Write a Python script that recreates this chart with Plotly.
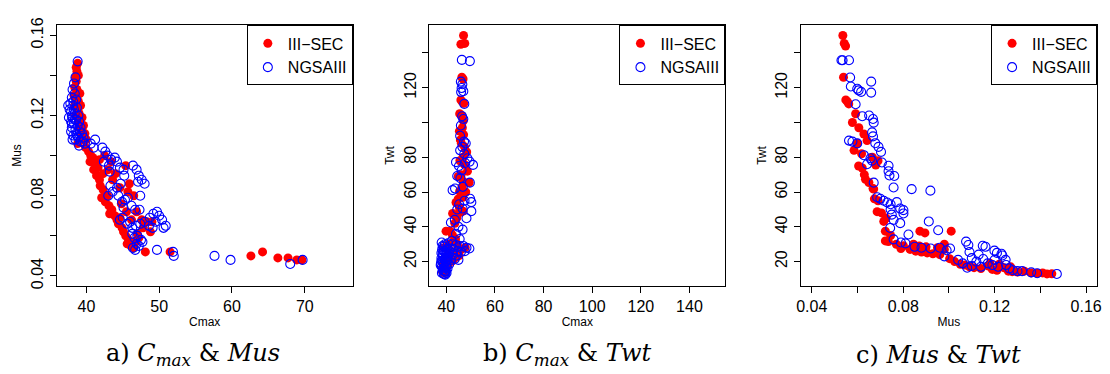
import plotly.graph_objects as go

# ---------------- data ----------------
# Panel a: Cmax vs Mus
a_sec_cmax = [38.8, 38.6, 38.7, 38.5, 38.6, 38.4, 38.7, 38.3, 38.6, 38.9, 38.4, 38.8, 39.0, 38.5, 38.9, 39.2, 39.0, 39.4, 39.3, 39.6, 38.8,
              39.9, 40.3, 40.6, 40.9, 40.5, 41.2, 41.0, 41.6, 41.4, 41.8, 42.3, 41.9, 42.3, 42.1, 42.6, 42.9, 43.1, 43.5, 43.2, 43.9,
              44.2, 44.6, 44.4, 44.9, 45.1, 45.4, 45.8, 45.6, 46.1, 46.5, 46.8, 47.2, 48.1, 47.0,
              43.4, 43.0, 44.0, 45.4, 45.9, 45.7, 44.6, 43.6, 46.5, 46.9, 47.6, 48.3, 48.8, 49.0, 47.8, 46.2, 42.5, 41.8, 44.8, 45.5,
              51.5, 62.6, 64.2, 66.3, 67.7, 68.9, 69.6,
              38.9, 39.1, 39.2, 39.4, 39.6, 40.0, 39.8]
a_sec_mus = [0.146, 0.144, 0.142, 0.139, 0.137, 0.134, 0.133, 0.130, 0.128, 0.127, 0.125, 0.123, 0.121, 0.120, 0.118, 0.116, 0.114, 0.112, 0.110, 0.108, 0.106,
             0.104, 0.102, 0.100, 0.099, 0.097, 0.096, 0.093, 0.094, 0.090, 0.088, 0.091, 0.085, 0.083, 0.079, 0.077, 0.080, 0.075, 0.073, 0.071, 0.070,
             0.068, 0.069, 0.066, 0.064, 0.062, 0.060, 0.058, 0.056, 0.055, 0.054, 0.057, 0.059, 0.052, 0.061,
             0.097, 0.093, 0.091, 0.095, 0.086, 0.082, 0.084, 0.088, 0.080, 0.072, 0.068, 0.067, 0.062, 0.067, 0.064, 0.068, 0.100, 0.098, 0.076, 0.072,
             0.052, 0.050, 0.052, 0.049, 0.049, 0.048, 0.048,
             0.140, 0.131, 0.125, 0.119, 0.115, 0.108, 0.111]
a_ngs_cmax = [38.8, 38.5, 38.3, 38.1, 38.4, 38.0, 38.6, 37.8, 37.5, 38.2, 38.7, 37.9, 38.4, 38.9, 38.1, 38.6, 37.9, 39.0, 38.3, 38.8, 38.0, 38.5, 39.2,
              37.9, 38.6, 39.4, 38.2, 38.9, 39.6, 38.5, 39.2, 39.8,
              40.6, 41.2, 41.0, 42.2, 42.6, 42.9, 43.4, 42.4, 43.1, 43.9, 44.2, 44.6, 43.2, 45.1, 46.4, 46.9, 47.2, 47.6, 47.1, 48.0, 47.4, 45.2,
              43.3, 43.0, 43.6, 44.2, 44.7, 44.4, 44.9, 45.3, 45.7, 45.1, 46.2, 46.7, 47.3, 44.6, 45.0, 45.6, 46.0, 46.3, 46.8, 47.4, 48.0,
              48.6, 49.2, 49.7, 50.0, 50.4, 49.5, 48.7, 50.9, 50.6, 49.1,
              46.3, 46.6, 47.0, 47.5, 46.9, 46.4, 46.7, 47.2, 47.7, 49.7, 51.9, 52.0, 57.6, 59.8, 68.0, 69.7,
              37.7, 38.0, 38.3, 38.2, 37.6, 38.0, 38.4, 39.1, 39.5, 38.7, 38.1, 39.0]
a_ngs_mus = [0.147, 0.139, 0.136, 0.133, 0.131, 0.129, 0.128, 0.126, 0.125, 0.125, 0.124, 0.122, 0.121, 0.120, 0.119, 0.118, 0.117, 0.117, 0.116, 0.115, 0.114, 0.113, 0.114,
             0.112, 0.111, 0.111, 0.110, 0.109, 0.109, 0.108, 0.107, 0.106,
             0.106, 0.108, 0.104, 0.104, 0.102, 0.100, 0.098, 0.097, 0.095, 0.099, 0.097, 0.094, 0.092, 0.093, 0.095, 0.093, 0.090, 0.088, 0.087, 0.086, 0.080, 0.090,
             0.085, 0.080, 0.082, 0.084, 0.086, 0.080, 0.077, 0.078, 0.079, 0.074, 0.075, 0.073, 0.073, 0.068, 0.069, 0.066, 0.067, 0.064, 0.065, 0.066, 0.067,
             0.065, 0.071, 0.072, 0.070, 0.068, 0.067, 0.069, 0.065, 0.064, 0.064,
             0.061, 0.059, 0.060, 0.058, 0.056, 0.054, 0.053, 0.055, 0.057, 0.053, 0.052, 0.050, 0.050, 0.048, 0.046, 0.048,
             0.123, 0.120, 0.123, 0.127, 0.119, 0.116, 0.118, 0.112, 0.107, 0.110, 0.108, 0.105]

# Panel b: Cmax vs Twt
b_sec_cmax = [47.1, 46.0, 47.6, 46.4, 46.9, 46.0, 47.2, 46.5, 45.5, 46.3, 47.0, 45.4, 46.6, 47.1, 45.8, 46.2, 47.5, 48.4, 46.9, 45.6,
              47.4, 48.7, 46.1, 44.9, 47.0, 49.4, 46.5, 48.0, 45.5, 46.8, 44.9, 44.0, 45.4, 46.9, 42.6, 45.7, 44.3, 43.5, 41.6, 39.9,
              42.5, 43.8, 44.5, 41.0, 39.0, 40.5, 42.0, 43.3, 45.3, 44.0, 41.5, 40.2, 39.0, 38.6, 39.5, 40.8, 42.6, 46.2, 47.8, 38.4, 39.2]
b_sec_twt = [150, 145, 145.5, 126, 125, 113, 111, 112, 105, 104, 101, 95, 97, 93, 90, 88, 86, 83, 80, 78,
             76, 72, 70, 69, 66, 65.5, 63, 60, 60.5, 57, 56, 54, 51, 49, 47.7, 48.3, 45, 42, 37.5, 37.5,
             35.4, 33, 30, 30, 28, 27, 26, 25.5, 23.5, 22.5, 22, 20, 19, 17, 16, 18, 20.5, 27, 28, 14.5, 13.5]
b_ngs_cmax = [46.4, 49.7, 46.0, 46.6, 46.3, 47.0, 46.1, 47.4, 46.5, 47.0, 46.0, 45.7, 47.3, 48.0, 46.6, 45.7, 47.4, 44.0, 48.7, 51.0,
              47.8, 49.6, 45.2, 46.3, 44.5, 45.8, 42.6, 43.6, 49.7, 46.8, 49.8, 50.3, 47.5, 45.3, 44.5, 50.3, 46.7, 48.3, 41.9, 43.5,
              46.7, 45.0, 44.0, 42.3, 45.5, 38.1, 38.5, 39.4, 40.7, 42.6, 44.0, 45.5, 47.0, 48.3, 49.5, 47.6, 46.0, 44.6, 43.0, 41.6,
              40.3, 39.0, 38.0, 38.6, 39.8, 41.2, 42.8, 44.2, 38.0, 39.3, 40.6, 42.0, 37.8, 38.8, 40.0, 41.2, 38.2, 39.3, 38.6, 39.5,
              38.2, 38.9, 39.6, 40.5, 38.0, 37.7, 43.5, 45.0,
              38.3, 39.0, 38.5, 39.6, 40.2, 40.7, 39.9, 38.4, 39.6, 40.3, 39.0, 39.8, 38.7, 39.9, 40.1, 39.2]
b_ngs_twt = [136, 135.3, 123.5, 122, 119.8, 118, 117.5, 110.7, 103.6, 102, 98.3, 92.4, 89, 88, 86, 84, 82, 77.2, 79.4, 75.6,
             76.7, 77.5, 75, 72.5, 69.2, 68, 61.1, 62, 65.4, 63, 56.1, 54.2, 55, 53, 50, 49, 50.5, 44.9, 42.5, 44,
             38.4, 40, 36, 32, 33, 31, 29, 30, 30.5, 30, 29.5, 29, 29, 28, 27.5, 26, 25.5, 26, 27, 27.5,
             27, 26, 25, 23.5, 24, 24.5, 24, 23.5, 22, 21.5, 21.5, 21, 19, 19.5, 18.5, 18.5, 17, 16.5, 15, 14.5,
             13.5, 13, 12.5, 16, 20.5, 18, 21.5, 21,
             27, 28.5, 25, 25.5, 25, 23, 22, 20.5, 20, 20.5, 18, 17, 16, 14.5, 13.5, 12.8]

# Panel c: Mus vs Twt
c_sec_mus = [0.0536, 0.0542, 0.0548, 0.0539, 0.0549, 0.0556, 0.0562, 0.0592, 0.0578, 0.0606, 0.0628, 0.0642, 0.0600, 0.0585, 0.0618,
             0.0605, 0.0621, 0.0635, 0.0630, 0.0650, 0.0668, 0.0671, 0.0674, 0.0690, 0.0686, 0.0705, 0.0715, 0.0725, 0.0722, 0.0722,
             0.0735, 0.0745, 0.0690, 0.0680, 0.0665, 0.0873, 0.0895, 0.1010, 0.0770, 0.0801, 0.0790, 0.0830, 0.0855, 0.0880, 0.0905,
             0.0930, 0.0955, 0.0980, 0.0960, 0.1003, 0.1025, 0.1050, 0.1070, 0.1090, 0.1110, 0.1140, 0.1170, 0.1190, 0.1210, 0.1240,
             0.1260, 0.1277, 0.1300, 0.1330, 0.1360, 0.1386, 0.1410, 0.1429, 0.1450, 0.0980, 0.0950, 0.0900, 0.0870, 0.0845, 0.1180,
             0.1220, 0.1270]
c_sec_twt = [150, 145.5, 144, 126, 113, 112, 110.7, 105, 100, 97, 93.4, 89.6, 88, 84, 82,
             75, 73.8, 67.3, 70, 65.5, 62, 61.7, 56.1, 55, 48.7, 48, 43.1, 45, 37.5, 31.9,
             31.5, 35, 78, 75.5, 80, 37.5, 36.5, 37.5, 30, 29.1, 27.5, 27, 26, 25.5, 25,
             24.5, 26, 27, 24, 21.7, 20, 18.5, 18, 17, 16.5, 16, 17.5, 15.5, 15, 16.5,
             14.5, 14.2, 14, 14.5, 13.5, 13.3, 13.5, 12.9, 13, 30, 28, 28.5, 29, 30, 19,
             18.5, 17]
c_ngs_mus = [0.0530, 0.0535, 0.0563, 0.0568, 0.0660, 0.0660, 0.0571, 0.0599, 0.0605, 0.0616, 0.0592, 0.0621, 0.0651, 0.0668, 0.0671,
             0.0664, 0.0668, 0.0563, 0.0578, 0.0599, 0.0678, 0.0692, 0.0703, 0.0628, 0.0657, 0.0664, 0.0642, 0.0707, 0.0736, 0.0736,
             0.0740, 0.0761, 0.0758, 0.0837, 0.0919, 0.0671, 0.0686, 0.0700, 0.0715, 0.0730, 0.0772, 0.0745, 0.0787, 0.0801, 0.0801,
             0.0745, 0.0750, 0.0758, 0.0787, 0.0743, 0.0823, 0.0912, 0.0953, 0.0758, 0.0790, 0.0810, 0.0850, 0.0880, 0.0920, 0.0960,
             0.0990, 0.1005, 0.0980, 0.1040, 0.1060, 0.1075, 0.1085, 0.1090, 0.1100, 0.1120, 0.1148, 0.1160, 0.1130, 0.1150, 0.1170,
             0.1199, 0.1210, 0.1230, 0.1234, 0.1248, 0.1200, 0.1190, 0.1215, 0.1250, 0.1265, 0.1280, 0.1300, 0.1320, 0.1360, 0.1386,
             0.1472, 0.1100, 0.1140, 0.1080]
c_ngs_twt = [135.8, 135.8, 135.8, 125.9, 123.5, 117.2, 120.7, 119.4, 118.5, 117.6, 110.5, 103.6, 104, 102, 99.9,
             94.3, 92, 89.6, 89, 88, 88.1, 86, 83.1, 81.2, 79.4, 78, 76, 77, 75.1, 72,
             69.5, 69.2, 62.6, 61.7, 60.8, 65.4, 57, 56.1, 55, 54, 54.2, 53, 50.5, 49.6, 47.7,
             50, 47, 44, 42.1, 39.3, 35.6, 43.1, 38, 32.8, 31, 30.5, 28.5, 28, 27.5, 28,
             26.5, 27.5, 23, 21, 19, 31.5, 29.5, 25.5, 22, 20, 29.1, 28.5, 24, 21.5, 19,
             26.3, 25, 24.5, 23.5, 21, 21, 18, 17, 18, 16, 15, 14.5, 14.5, 13.8, 13.3,
             12.9, 17.5, 17, 16.5]

series_names = ["III\u2212SEC", "NGSAIII"]
captions = ["a) <i>C</i><sub><i>max</i></sub> & <i>Mus</i>",
            "b) <i>C</i><sub><i>max</i></sub> & <i>Twt</i>",
            "c) <i>Mus</i> & <i>Twt</i>"]

# ---------------- figure ----------------
W, H = 1110, 374
RED, BLUE = "#ff0000", "#0000ff"
SANS = "Liberation Sans, Arial, Helvetica, sans-serif"

fig = go.Figure()

panels = [
    (a_sec_cmax, a_sec_mus, a_ngs_cmax, a_ngs_mus, "x", "y", "legend"),
    (b_sec_cmax, b_sec_twt, b_ngs_cmax, b_ngs_twt, "x2", "y2", "legend2"),
    (c_sec_mus, c_sec_twt, c_ngs_mus, c_ngs_twt, "x3", "y3", "legend3"),
]
for sx, sy, nx, ny, xa, ya, lg in panels:
    fig.add_trace(go.Scatter(x=sx, y=sy, mode="markers", name=series_names[0], xaxis=xa, yaxis=ya, legend=lg,
                             marker=dict(symbol="circle", size=9, color=RED, line=dict(width=0))))
    fig.add_trace(go.Scatter(x=nx, y=ny, mode="markers", name=series_names[1], xaxis=xa, yaxis=ya, legend=lg,
                             marker=dict(symbol="circle-open", size=9, color=BLUE, line=dict(width=1.1, color=BLUE))))

frames = [(52, 351), (428, 727), (803, 1102)]
y_dom = [1 - 286 / H, 1 - 18 / H]

axis_common = dict(showline=True, linecolor="black", linewidth=1, mirror=True, ticks="outside", ticklen=6,
                   tickcolor="black", tickwidth=1, showgrid=False, zeroline=False,
                   tickfont=dict(family=SANS, size=16, color="black"))

a_xticks = [40, 50, 60, 70]
a_yticks = [0.04, 0.06, 0.08, 0.10, 0.12, 0.14, 0.16]
a_ytext = ["0.04", "", "0.08", "", "0.12", "", "0.16"]
b_xticks = [40, 60, 80, 100, 120, 140]
twt_ticks = [20, 40, 60, 80, 100, 120, 140]
twt_text = ["20", "40", "60", "80", "", "120", ""]
c_xticks = [0.04, 0.06, 0.08, 0.10, 0.12, 0.14, 0.16]
c_xtext = ["0.04", "", "0.08", "", "0.12", "", "0.16"]

title_font = dict(family=SANS, size=12, color="black")

fig.update_layout(
    width=W, height=H, margin=dict(l=0, r=0, t=0, b=0),
    paper_bgcolor="white", plot_bgcolor="white",
    xaxis=dict(domain=[frames[0][0] / W, frames[0][1] / W], range=[35.9, 76.6], anchor="y",
               tickvals=a_xticks, ticktext=[str(v) for v in a_xticks],
               title=dict(text="Cmax", font=title_font, standoff=3), **axis_common),
    yaxis=dict(domain=y_dom, range=[0.0352, 0.1649], anchor="x", tickvals=a_yticks, ticktext=a_ytext, tickangle=-90,
               title=dict(text="Mus", font=title_font, standoff=4), **axis_common),
    xaxis2=dict(domain=[frames[1][0] / W, frames[1][1] / W], range=[32.95, 154.8], anchor="y2",
                tickvals=b_xticks, ticktext=[str(v) for v in b_xticks],
                title=dict(text="Cmax", font=title_font, standoff=3), **axis_common),
    yaxis2=dict(domain=y_dom, range=[6.2, 155.8], anchor="x2", tickvals=twt_ticks, ticktext=twt_text, tickangle=-90,
                title=dict(text="Twt", font=title_font, standoff=4), **axis_common),
    xaxis3=dict(domain=[frames[2][0] / W, frames[2][1] / W], range=[0.0352, 0.1648], anchor="y3",
                tickvals=c_xticks, ticktext=c_xtext,
                title=dict(text="Mus", font=title_font, standoff=3), **axis_common),
    yaxis3=dict(domain=y_dom, range=[6.2, 155.8], anchor="x3", tickvals=twt_ticks, ticktext=twt_text, tickangle=-90,
                title=dict(text="Twt", font=title_font, standoff=4), **axis_common),
)

legend_common = dict(xanchor="right", yanchor="top", y=y_dom[1], bgcolor="white", bordercolor="black", borderwidth=1,
                     font=dict(family=SANS, size=16, color="black"), itemwidth=30, tracegroupgap=0)
fig.update_layout(
    legend=dict(x=frames[0][1] / W, **legend_common),
    legend2=dict(x=frames[1][1] / W, **legend_common),
    legend3=dict(x=frames[2][1] / W, **legend_common),
)

cap_x = [190, 567, 942]
for cx, txt in zip(cap_x, captions):
    fig.add_annotation(text=txt, x=cx / W, y=1 - 357 / H, xref="paper", yref="paper", xanchor="center", yanchor="middle",
                       showarrow=False, font=dict(family="DejaVu Serif, Liberation Serif, serif", size=24, color="black"))

fig.write_html("out.html", config={"displayModeBar": False})

# remove the browser's default 8px body margin so the figure sits at the page origin
with open("out.html", encoding="utf-8") as f:
    html = f.read()
html = html.replace("<head>", "<head><style>html,body{margin:0;padding:0;overflow:hidden;}</style>", 1)
with open("out.html", "w", encoding="utf-8") as f:
    f.write(html)
